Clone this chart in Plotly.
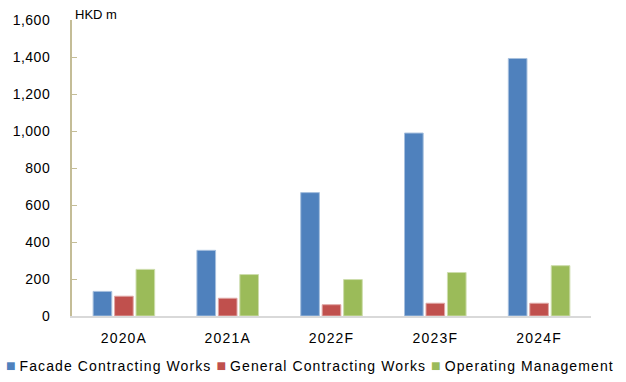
import plotly.graph_objects as go

# Revenue by segment, HKD m (A = actual, F = forecast)
years = ["2020A", "2021A", "2022F", "2023F", "2024F"]
facade = [133, 355, 667, 989, 1392]
general = [107, 96, 61, 69, 69]
operating = [252, 224, 197, 235, 272]

series_names = ["Facade Contracting Works", "General Contracting Works", "Operating Management"]
series_colors = ["#4F81BD", "#C0504D", "#9BBB59"]
edge_colors = ["#A7C0DE", "#E0A8A6", "#CDDDAC"]
y_ticks = [0, 200, 400, 600, 800, 1000, 1200, 1400, 1600]

FONT = "Liberation Sans, Arial, sans-serif"


def spaced(text, px):
    """Wrap text in a span with extra letter spacing."""
    return f"<span style='letter-spacing:{px}px'>{text}</span>"


fig = go.Figure()
for name, vals, col, edge in zip(series_names, [facade, general, operating], series_colors, edge_colors):
    fig.add_trace(go.Bar(
        name=name, x=years, y=vals,
        marker=dict(color=col, line=dict(color=edge, width=1)),
        showlegend=False,
    ))

# Legend row drawn as a single centred line of text with coloured squares
legend_text = spaced("\u00a0".join(
    f"<span style='color:{c};font-size:16px;letter-spacing:0px'>■</span>\u2009{n}"
    for n, c in zip(series_names, series_colors)
), 1.1)

fig.update_layout(
    width=626, height=382,
    margin=dict(l=72, r=35, t=15.5, b=66),
    paper_bgcolor="white", plot_bgcolor="white",
    barmode="group", bargap=0.38, bargroupgap=0.13,
    font=dict(family=FONT, size=14, color="#000000"),
    xaxis=dict(
        showline=True, linecolor="#D9D9D9", linewidth=2,
        showgrid=False, ticks="", ticklabelstandoff=8,
        tickvals=years, ticktext=[spaced(y, 1.2) for y in years],
        tickfont=dict(size=14),
    ),
    yaxis=dict(
        range=[0, 1600], tickvals=y_ticks,
        ticktext=[spaced(f"{v:,}", 0.5) for v in y_ticks],
        showline=True, linecolor="#C4BD97", linewidth=2,
        ticks="inside", ticklen=5, tickcolor="#C4BD97", tickwidth=1,
        showgrid=False, zeroline=False, ticklabelstandoff=17,
        tickfont=dict(size=14),
    ),
    annotations=[
        dict(text="HKD m", xref="paper", yref="paper", x=0, y=1,
             xanchor="left", yanchor="bottom", xshift=1, yshift=-4,
             showarrow=False, font=dict(size=13)),
        dict(text=legend_text, xref="paper", yref="paper",
             x=(310 - 72) / 519, y=-50 / 300.5,
             xanchor="center", yanchor="middle",
             showarrow=False, font=dict(size=14)),
    ],
)

fig.write_html("out.html")
